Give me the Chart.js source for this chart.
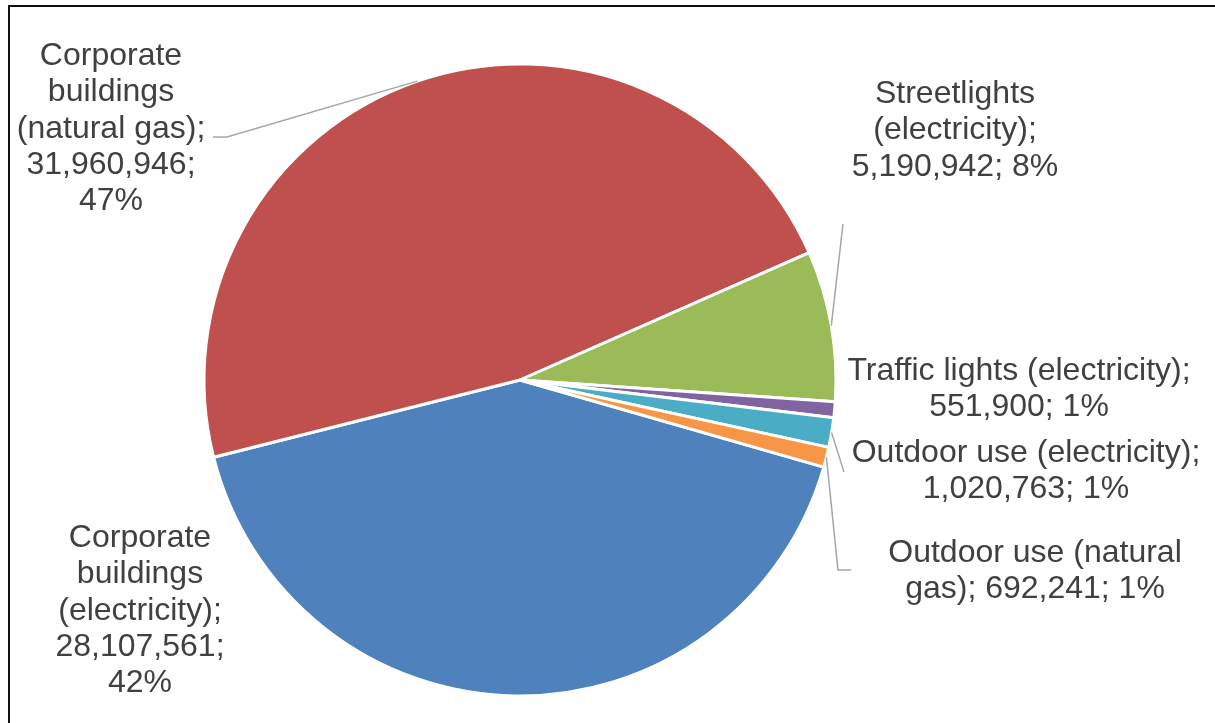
<!DOCTYPE html>
<html>
<head>
<meta charset="utf-8">
<script src="https://cdn.jsdelivr.net/npm/chart.js@4.4.1/dist/chart.umd.min.js"></script>
<style>
  html, body { margin: 0; padding: 0; background: #fff; }
  canvas { display: block; }
</style>
</head>
<body>
<canvas id="energyPie" width="1215" height="723"></canvas>
<script>
var categories = [
  'Corporate buildings (electricity)',
  'Corporate buildings (natural gas)',
  'Streetlights (electricity)',
  'Traffic lights (electricity)',
  'Outdoor use (electricity)',
  'Outdoor use (natural gas)'
];
var consumption = [28107561, 31960946, 5190942, 551900, 1020763, 692241];
// shares as printed on the chart
var shareLabels = ['42%', '47%', '8%', '1%', '1%', '1%'];
var sliceColors = ['#4F81BD', '#C0504D', '#9BBB59', '#8064A2', '#4BACC6', '#F79646'];

// data label placement: centre x, first baseline, wrap width, leader bend points (label side)
var labelLayout = [
  { x: 140, y: 547, wrap: 200, leader: [] },
  { x: 111, y: 65, wrap: 200, leader: [[227, 137], [213, 137]] },
  { x: 955, y: 103, wrap: 230, leader: [[843, 224]] },
  { x: 1019, y: 380, wrap: 360, leader: [] },
  { x: 1026, y: 462, wrap: 360, leader: [[844, 472]] },
  { x: 1035, y: 562, wrap: 300, leader: [[838, 570], [851, 570]] }
];
var labelFont = '32px "Liberation Sans", Arial, sans-serif';
var lineHeight = 36.3;

function withCommas(n) {
  return String(n).replace(/\B(?=(\d{3})+(?!\d))/g, ',');
}

function wrapText(ctx, text, maxWidth) {
  var words = text.split(' ');
  var lines = [];
  var cur = '';
  words.forEach(function (w) {
    var test = cur ? cur + ' ' + w : w;
    if (cur && ctx.measureText(test).width > maxWidth) {
      lines.push(cur);
      cur = w;
    } else {
      cur = test;
    }
  });
  if (cur) lines.push(cur);
  return lines;
}

var pieLabels = {
  id: 'pieLabels',
  beforeDraw: function (chart) {
    var ctx = chart.ctx;
    ctx.save();
    ctx.fillStyle = '#ffffff';
    ctx.fillRect(0, 0, chart.width, chart.height);
    // outer frame (top and left edges are visible in the original crop)
    ctx.strokeStyle = '#111111';
    ctx.lineWidth = 2;
    ctx.beginPath();
    ctx.moveTo(9, chart.height);
    ctx.lineTo(9, 6);
    ctx.lineTo(chart.width, 6);
    ctx.stroke();
    ctx.restore();
  },
  afterDatasetsDraw: function (chart) {
    var ctx = chart.ctx;
    var arcs = chart.getDatasetMeta(0).data;
    ctx.save();
    ctx.font = labelFont;
    ctx.textAlign = 'center';
    ctx.textBaseline = 'alphabetic';
    arcs.forEach(function (arc, i) {
      var lay = labelLayout[i];
      var p = arc.getProps(['x', 'y', 'startAngle', 'endAngle', 'outerRadius'], true);
      var mid = (p.startAngle + p.endAngle) / 2;
      var ex = p.x + Math.cos(mid) * p.outerRadius;
      var ey = p.y + Math.sin(mid) * p.outerRadius;

      if (lay.leader.length) {
        ctx.strokeStyle = '#A6A6A6';
        ctx.lineWidth = 1.5;
        ctx.beginPath();
        ctx.moveTo(ex, ey);
        lay.leader.forEach(function (pt) { ctx.lineTo(pt[0], pt[1]); });
        ctx.stroke();
      }

      var text = categories[i] + '; ' + withCommas(consumption[i]) + '; ' + shareLabels[i];
      var lines = wrapText(ctx, text, lay.wrap);
      ctx.fillStyle = '#404040';
      lines.forEach(function (ln, k) {
        ctx.fillText(ln, lay.x, lay.y + k * lineHeight);
      });
    });
    ctx.restore();
  }
};

var ctx = document.getElementById('energyPie');
var energyChart = new Chart(ctx, {
  type: 'pie',
  data: {
    labels: categories,
    datasets: [{
      data: consumption,
      backgroundColor: sliceColors,
      borderColor: '#ffffff',
      borderWidth: 3,
      hoverOffset: 0
    }]
  },
  options: {
    responsive: false,
    animation: false,
    rotation: 106,
    radius: 316,
    layout: {
      padding: { left: 200, right: 375, top: 60, bottom: 23 }
    },
    plugins: {
      legend: { display: false },
      tooltip: { enabled: false }
    }
  },
  plugins: [pieLabels]
});
</script>
</body>
</html>
